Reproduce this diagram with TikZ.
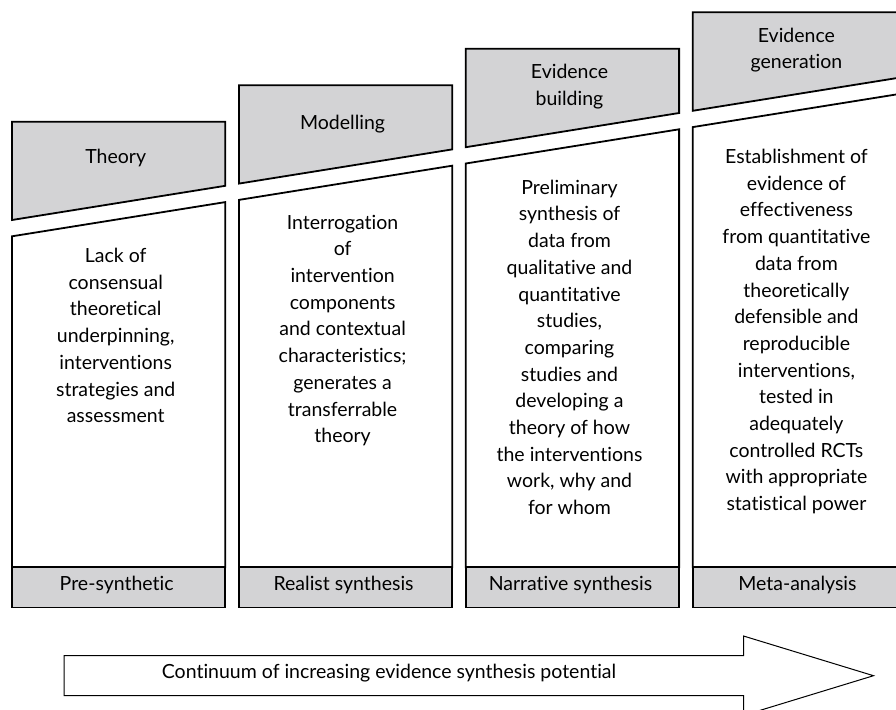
\documentclass[tikz,border=0pt]{standalone}
\usepackage{fontspec}
\setmainfont{Lato}[Ligatures={NoCommon}]
\definecolor{headgray}{RGB}{211,211,213}

\begin{document}
\begin{tikzpicture}[x=1pt,y=-1pt,
  headbox/.style={draw=black,line width=1.8pt,fill=headgray},
  bodybox/.style={draw=black,line width=1.8pt,fill=white},
  bandbox/.style={draw=black,line width=1.8pt,fill=headgray},
  txt/.style={align=center,inner sep=0pt,font=\fontsize{19.5}{26.7}\selectfont},
  bandtxt/.style={inner sep=0pt,font=\fontsize{19.5}{26.7}\selectfont,text height=1.45ex,text depth=0.3ex}]
  \useasboundingbox (0,0) rectangle (896,709);
  \clip (0,0) rectangle (896,709);

  \draw[headbox] (12,121.7) -- (225.3,121.7) -- (225.3,185.8) -- (12,220) -- cycle;
  \draw[headbox] (238.9,85.2) -- (452.2,85.2) -- (452.2,149.4) -- (238.9,183.6) -- cycle;
  \draw[headbox] (465.8,48.7) -- (679.1,48.7) -- (679.1,113) -- (465.8,147.2) -- cycle;
  \draw[headbox] (692.7,12.2) -- (906,12.2) -- (906,76.6) -- (692.7,110.8) -- cycle;

  \draw[bodybox] (12,236.3) -- (225.3,202.1) -- (225.3,567.3) -- (12,567.3) -- cycle;
  \draw[bodybox] (238.9,199.9) -- (452.2,165.7) -- (452.2,567.3) -- (238.9,567.3) -- cycle;
  \draw[bodybox] (465.8,163.5) -- (679.1,129.3) -- (679.1,567.3) -- (465.8,567.3) -- cycle;
  \draw[bodybox] (692.7,127.1) -- (906,92.9) -- (906,567.3) -- (692.7,567.3) -- cycle;

  \draw[bandbox] (12,567.3) rectangle (225.3,607.5);
  \draw[bandbox] (238.9,567.3) rectangle (452.2,607.5);
  \draw[bandbox] (465.8,567.3) rectangle (679.1,607.5);
  \draw[bandbox] (692.7,567.3) rectangle (906,607.5);
  \draw[line width=0.8pt] (12,567.3) -- (225.3,567.3);
  \draw[line width=0.8pt] (238.9,567.3) -- (452.2,567.3);
  \draw[line width=0.8pt] (465.8,567.3) -- (679.1,567.3);
  \draw[line width=0.8pt] (692.7,567.3) -- (906,567.3);

  \node[txt] (theory) at (115.7,158) {Theory};
  \node[txt] (modelling) at (342.6,124) {Modelling};
  \node[txt] (building) at (569.5,86.5) {Evidence\\building};
  \node[txt] (generation) at (796.4,50) {Evidence\\generation};

  \node[txt,anchor=north] (lack) at (115.7,248) {Lack of\\consensual\\theoretical\\underpinning,\\interventions\\strategies and\\assessment};
  \node[txt,anchor=north] (interrogation) at (342.6,214.7) {Interrogation\\of\\intervention\\components\\and contextual\\characteristics;\\generates a\\transferrable\\theory};
  \node[txt,anchor=north] (preliminary) at (569.5,179.7) {Preliminary\\synthesis of\\data from\\qualitative and\\quantitative\\studies,\\comparing\\studies and\\developing a\\theory of how\\the interventions\\work, why and\\for whom};
  \node[txt,anchor=north] (establishment) at (796.4,149) {Establishment of\\evidence of\\effectiveness\\from quantitative\\data from\\theoretically\\defensible and\\reproducible\\interventions,\\tested in\\adequately\\controlled RCTs\\with appropriate\\statistical power};

  \node[bandtxt] (presynthetic) at (116.7,587.4) {Pre-synthetic};
  \node[bandtxt] (realist) at (343.6,587.4) {Realist synthesis};
  \node[bandtxt] (narrative) at (570.5,587.4) {Narrative synthesis};
  \node[bandtxt] (meta) at (797.4,587.4) {Meta-analysis};

  \draw[line width=1pt,fill=white] (64,655.7) -- (743.5,655.7) -- (743.5,636) -- (873.5,675.7) -- (743.5,715.4) -- (743.5,695.7) -- (64,695.7) -- cycle;
  \node[bandtxt] (continuum) at (389,675.7) {Continuum of increasing evidence synthesis potential};
\end{tikzpicture}
\end{document}
